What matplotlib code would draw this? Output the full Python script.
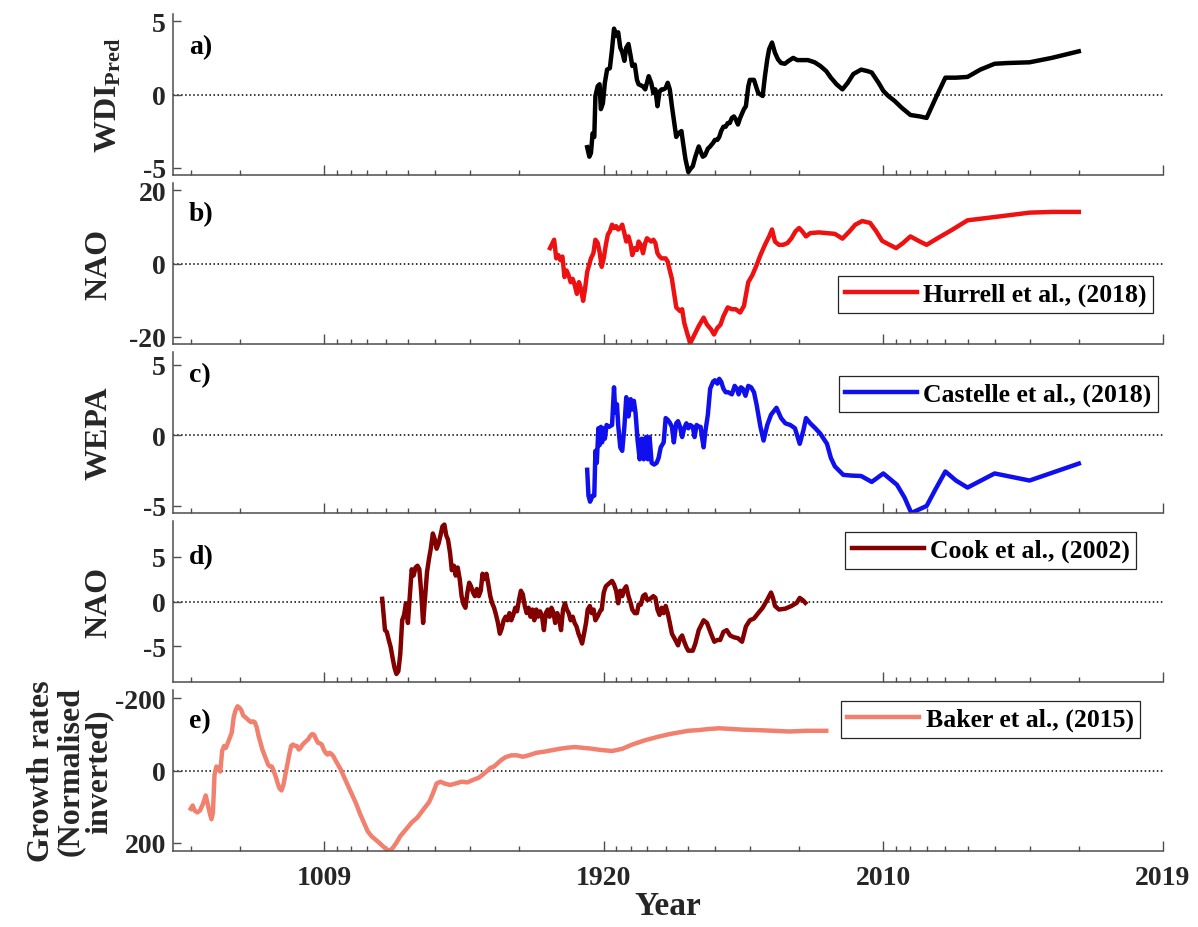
"""
Five stacked climate index panels on a reversed log time axis
(WDI prediction, NAO, WEPA, NAO reconstruction, growth rates).
"""

import matplotlib
matplotlib.use("Agg")
import matplotlib.pyplot as plt
import numpy as np
from matplotlib.ticker import FixedLocator, LogLocator, NullFormatter

plt.rcParams['font.family'] = ['Liberation Serif', 'DejaVu Serif']
plt.rcParams['font.weight'] = 'bold'
plt.rcParams['axes.unicode_minus'] = False
plt.rcParams['mathtext.fontset'] = 'custom'
plt.rcParams['mathtext.rm'] = 'Liberation Serif:bold'
plt.rcParams['mathtext.bf'] = 'Liberation Serif:bold'
plt.rcParams['mathtext.it'] = 'Liberation Serif:bold:italic'

# x axis is log10(REF_YEAR - year), drawn reversed
REF_YEAR = 2020
tick_years = [1020, 1920, 2010, 2019]
tick_labels = ['1009', '1920', '2010', '2019']

# ---- a) WDI_Pred ----
wdi_year = [1905.5, 1907.5, 1909, 1910.5, 1912, 1913, 1915, 1916.6, 1917.7, 1919.4,
            1921, 1922.8, 1925, 1926.7, 1928.2, 1929.8, 1931.3, 1932.8, 1934.2, 1935.7,
            1937, 1938.5, 1940, 1941, 1942.6, 1944, 1945, 1947.7, 1949, 1950,
            1951, 1952.4, 1953.6, 1954.7, 1955.8, 1956.9, 1958, 1959, 1960, 1961,
            1962, 1963, 1965, 1966, 1967.3, 1968, 1969, 1970.2, 1971, 1972,
            1973, 1974.3, 1975, 1975.8, 1976.6, 1977.6, 1978.4, 1979.4, 1980, 1980.8,
            1981.4, 1982, 1982.7, 1983.4, 1984, 1984.6, 1985.2, 1985.8, 1986.3, 1986.9,
            1987.5, 1988, 1988.5, 1989, 1989.6, 1990, 1991, 1991.6, 1992, 1993,
            1993.5, 1994, 1994.4, 1995, 1995.6, 1996.2, 1996.8, 1997.5, 1998.2, 1999,
            1999.7, 2000.5, 2001.4, 2002.4, 2003.2, 2004, 2004.6, 2005.3, 2006, 2006.6,
            2007.2, 2008, 2008.6, 2009, 2009.6, 2010, 2010.4, 2010.9, 2011.4, 2012,
            2012.6, 2013, 2013.5, 2014, 2014.5, 2015, 2015.5, 2016, 2016.4, 2017,
            2017.5, 2018]
wdi_val = [-3.6, -4.25, -4.0, -2.65, -2.9, -0.1, 0.57, 0.7, -1.0, -0.6,
           0.8, 1.7, 1.8, 3.1, 4.5, 4.0, 4.25, 3.2, 2.9, 2.3,
           3.2, 3.45, 2.6, 1.95, 2.05, 1.0, 0.7, 0.55, 0.35, 0.8,
           1.25, 0.8, 0.1, 0.35, -0.8, 0.2, 0.35, 0.35, 0.45, 0.8,
           0.35, -0.8, -2.9, -2.65, -2.5, -3.3, -4.4, -5.3, -5.1, -4.9,
           -4.25, -3.55, -3.9, -4.25, -4.15, -3.7, -3.55, -3.3, -3.1, -3.1,
           -2.9, -2.5, -2.2, -2.2, -1.95, -1.95, -1.6, -1.5, -1.7, -2.05,
           -1.6, -1.3, -1.0, -0.8, 0.55, 1.0, 1.0, 0.45, 0.1, -0.1,
           1.25, 2.4, 3.1, 3.55, 2.85, 2.4, 2.15, 2.1, 2.3, 2.5,
           2.35, 2.35, 2.35, 2.2, 1.95, 1.6, 1.15, 0.7, 0.35, 0.8,
           1.4, 1.7, 1.6, 1.5, 0.8, 0.25, -0.1, -0.45, -0.9, -1.4,
           -1.5, -1.6, -0.25, 1.15, 1.15, 1.2, 1.7, 2.1, 2.15, 2.2,
           2.5, 2.95]

# ---- b) NAO, Hurrell et al. (2018) ----
hurrell_year = [1864.5, 1869.7, 1872.3, 1874.8, 1877.2, 1879.6, 1882, 1884.3, 1886.6, 1888.8,
                1891, 1893.2, 1895.4, 1897.5, 1899.5, 1901.6, 1903.5, 1905.5, 1909, 1911.2,
                1913, 1915, 1916.6, 1918.4, 1920.1, 1921.8, 1923.4, 1925, 1926.7, 1928.2,
                1929.8, 1931.3, 1932.8, 1934.2, 1935.7, 1937, 1938.5, 1940, 1941, 1942.6,
                1944, 1945, 1946.4, 1947.7, 1949, 1950, 1951, 1952.4, 1953.6, 1954.7,
                1955.8, 1956.9, 1958, 1960, 1961, 1962, 1963, 1965, 1966.7, 1967.6,
                1968.5, 1969.7, 1971, 1972.7, 1974.3, 1976.1, 1977.3, 1978.7, 1979.7, 1980.8,
                1981.8, 1982.7, 1984, 1985.2, 1986.3, 1987.5, 1988.5, 1989.6, 1990.6, 1991.6,
                1992.5, 1993.5, 1994.4, 1995, 1995.6, 1996.4, 1997.2, 1998, 1998.7, 1999.4,
                2000, 2000.5, 2001.1, 2001.75, 2003, 2004.1, 2005.1, 2006, 2006.8, 2007.4,
                2008.1, 2008.85, 2009.4, 2009.9, 2010.4, 2011, 2011.5, 2012, 2012.6, 2013,
                2013.6, 2014.35, 2015, 2016, 2017, 2017.5, 2018]
hurrell_val = [4.2, 6.5, 1.4, 2.3, 0.9, 1.9, -3.7, -1.9, -3.2, -5.1,
               -4.2, -6.0, -8.3, -5.1, -6.9, -10.2, -6.9, -2.3, 1.4, 2.8,
               6.5, 5.6, 3.2, -0.9, 1.4, 5.1, 7.9, 8.8, 10.6, 9.7,
               10.2, 9.3, 9.7, 10.6, 8.3, 6.0, 7.4, 5.1, 2.3, 4.2,
               3.7, 6.0, 5.1, 2.8, 5.6, 6.9, 6.5, 6.0, 6.5, 5.6,
               2.8, 1.9, 1.4, 1.4, 0.5, -1.9, -4.2, -12.0, -13.0, -12.5,
               -16.2, -19.0, -21.8, -19.4, -17.1, -14.8, -16.7, -18.0, -19.4, -17.6,
               -16.7, -14.4, -12.0, -12.5, -12.5, -13.4, -11.6, -5.1, -3.2, -0.5,
               2.3, 5.1, 7.4, 9.3, 6.0, 5.1, 5.1, 5.6, 6.9, 8.8,
               9.7, 8.8, 7.4, 8.3, 8.5, 8.3, 8.1, 6.8, 8.8, 10.6,
               11.6, 11.1, 8.8, 6.2, 5.3, 4.2, 5.6, 7.4, 6.0, 5.1,
               6.9, 9.3, 11.8, 12.7, 13.9, 14.1, 14.1]

# ---- c) WEPA, Castelle et al. (2018) ----
castelle_year = [1905.5, 1906.7, 1908.2, 1910.5, 1912, 1913, 1914.2, 1915.6, 1916.6, 1917.7,
                 1918.7, 1920.1, 1921, 1922.4, 1924.4, 1926.7, 1928.2, 1929.15, 1930.4, 1931.3,
                 1932.8, 1934.2, 1935.7, 1937, 1938.5, 1940, 1941, 1942.05, 1943.1, 1944.4,
                 1945.7, 1946.9, 1948.15, 1949.4, 1950.55, 1951.5, 1952.65, 1954, 1955.35, 1956.4,
                 1957.5, 1959, 1960, 1961, 1962, 1963, 1963.9, 1965, 1965.8, 1966.7,
                 1967.6, 1968.5, 1969.4, 1970.2, 1971, 1972, 1972.7, 1973.5, 1974.3, 1975,
                 1975.5, 1976.1, 1976.7, 1977.6, 1978.4, 1979.4, 1980, 1980.8, 1981.4, 1982,
                 1982.7, 1983.4, 1984.2, 1985.2, 1986, 1986.6, 1987.1, 1987.7, 1988.2, 1988.9,
                 1989.6, 1990.3, 1991, 1991.6, 1992.5, 1993.2, 1994, 1994.8, 1995.9, 1996.8,
                 1997.6, 1998.5, 1999.3, 2000.1, 2000.7, 2001.1, 2001.75, 2002.5, 2003.2, 2004.1,
                 2004.6, 2005.1, 2006.1, 2007, 2008, 2009, 2010, 2011.06, 2011.6, 2012.06,
                 2013, 2013.5, 2014, 2014.5, 2015, 2016, 2017, 2018]
castelle_val = [-2.44, -4.27, -4.7, -4.27, -4.27, -1.1, -1.95, 0.5, -0.7, 0.6,
                -0.5, 0.5, -0.24, 0.73, 0.6, 0.73, 3.4, 1.6, 2.2, 0.73,
                -0.85, -1.1, 0.6, 2.7, 1.34, 2.56, 1.83, 2.44, 1.6, -0.37,
                -1.7, -0.24, -1.7, -0.12, -1.7, -0.12, -1.95, -2.07, -1.95, -1.6,
                -0.85, -0.5, 1.22, 1.1, 0.9, 0.6, -0.5, 0.85, 1.0, 0.6,
                -0.12, 0.5, 0.85, 0.5, 0.73, 0.6, -0.12, 0.73, 0.6, 0.6,
                -0.12, -0.85, 0.24, 1.46, 3.3, 3.8, 3.9, 3.66, 4.0, 3.8,
                3.3, 3.05, 3.05, 2.9, 3.5, 3.3, 2.9, 3.4, 3.3, 2.8,
                3.5, 3.4, 3.05, 2.2, 0.6, -0.37, 0.73, 1.46, 1.95, 1.22,
                0.85, 0.73, 0.5, -0.6, 0.37, 1.22, 0.85, 0.5, 0.12, -0.6,
                -1.6, -2.2, -2.8, -2.85, -2.88, -3.3, -2.7, -3.5, -4.4, -5.5,
                -5.0, -3.8, -2.56, -3.2, -3.7, -2.7, -3.2, -2.0]

# ---- d) NAO reconstruction, Cook et al. (2002) ----
cook_year = [1401, 1415, 1424, 1433.5, 1442.7, 1451.7, 1460.6, 1469.4, 1478, 1486.5,
             1494.8, 1503, 1511, 1519, 1527, 1534.5, 1542, 1549.6, 1557, 1564,
             1571, 1578, 1585, 1592, 1599, 1605, 1612, 1618, 1624.5, 1631,
             1637, 1643, 1649, 1654.5, 1660, 1666, 1671, 1677, 1682, 1687.5,
             1693, 1698, 1703, 1708, 1713, 1717.6, 1722, 1727, 1731.5, 1736,
             1740.5, 1745, 1749, 1753, 1757.6, 1761.7, 1765.7, 1769.7, 1773.6, 1777.5,
             1781.3, 1785, 1788.7, 1792.3, 1795.9, 1799.4, 1802.8, 1806, 1809.6, 1813,
             1816, 1819.3, 1822.4, 1825.5, 1828.6, 1831.6, 1834.5, 1837.4, 1840.3, 1843,
             1846, 1848.6, 1851.3, 1854, 1856.5, 1859, 1861.6, 1864, 1866.4, 1869,
             1871, 1873.5, 1876, 1878, 1880.3, 1882.5, 1884.6, 1886.7, 1888.8, 1891,
             1893, 1895, 1897, 1898.8, 1900.6, 1902.5, 1904.4, 1906, 1908, 1909.7,
             1911.4, 1913, 1914.8, 1917.4, 1918.4, 1920.1, 1921.8, 1923.4, 1925, 1926.7,
             1928.2, 1929.8, 1931.3, 1932.8, 1934.2, 1935.7, 1937, 1938.5, 1940, 1941,
             1942.6, 1944, 1945, 1946.4, 1947.7, 1949, 1950, 1951, 1952.4, 1953.6,
             1954.7, 1955.8, 1956.9, 1958, 1959, 1960, 1961, 1962, 1963, 1963.9,
             1965, 1965.8, 1966.7, 1967.6, 1968.5, 1969.4, 1970.2, 1972, 1973, 1974.3,
             1976.1, 1977.3, 1978.7, 1979.8, 1980.8, 1981.7, 1982.7, 1983.7, 1984.7, 1985.8,
             1986.9, 1988, 1989, 1990, 1991, 1992, 1993, 1994, 1994.8, 1995.2,
             1995.6, 1996.4, 1997.6, 1998.7, 1999.6, 2000.1, 2000.6, 2001]
cook_val = [0.3, -3.2, -3.4, -4.3, -5.1, -6.3, -7.4, -8.1, -7.8, -5.9,
            -2.1, -1.5, -0.2, -2.4, 0.6, 3.6, 2.9, 3.8, 4.0, 3.6,
            1.0, -2.4, 0.4, 3.3, 4.8, 5.9, 7.6, 7.0, 5.9, 6.5,
            7.4, 8.4, 8.6, 7.4, 6.9, 5.4, 3.5, 4.0, 2.9, 3.8,
            2.5, 0.6, -0.3, -0.7, 1.0, 2.1, 1.7, 1.0, 0.6, 1.4,
            0.6, 1.2, 3.1, 2.5, 3.1, 1.9, 0.6, -0.2, -0.7, -1.5,
            -2.4, -3.6, -3.0, -2.1, -1.7, -2.1, -1.3, -2.1, -1.5, -0.7,
            -1.1, 0.2, 1.2, 0.8, -0.5, -1.3, -0.7, -1.7, -0.9, -2.1,
            -0.9, -1.7, -1.1, -1.7, -3.2, -1.3, -0.9, -1.7, -0.7, -1.3,
            -2.4, -1.3, -2.1, -3.2, -0.9, -0.2, -0.9, -1.3, -2.1, -1.7,
            -2.4, -2.8, -3.6, -4.1, -4.7, -3.6, -2.4, -0.9, -0.5, -1.3,
            -0.9, -2.1, -1.7, -1.0, -0.9, 1.0, 1.7, 1.9, 2.1, 2.3,
            1.9, 1.2, -0.2, 1.2, 0.6, 1.4, 1.7, 0.6, -0.2, -0.9,
            -1.3, -1.3, -0.35, -0.35, 0.6, 0.8, 0.2, 0.2, 0.4, 0.6,
            0.4, -0.9, -1.5, -0.7, -1.3, -0.5, -1.3, -2.4, -3.6, -4.0,
            -4.5, -4.9, -4.1, -3.8, -4.5, -5.1, -5.5, -5.5, -4.7, -3.2,
            -2.1, -2.4, -3.6, -4.5, -4.3, -4.3, -3.4, -3.2, -3.8, -4.0,
            -4.1, -4.5, -2.8, -2.1, -1.9, -1.3, -0.7, 0.2, 1.0, 0.4,
            -0.5, -0.9, -0.8, -0.5, -0.15, 0.4, 0.15, -0.15]

# ---- e) growth rates (normalised, inverted), Baker et al. (2015) ----
baker_year = [-974, -927, -880, -817, -755, -686, -627, -586, -537, -505,
              -474, -442, -404, -366, -328, -292, -255, -220, -184, -150,
              -116, -82, -50, -17, 15, 46, 77, 108, 137, 167,
              196, 224, 252, 280, 307, 334, 360, 386, 412, 437,
              461, 486, 510, 533, 557, 579, 602, 624, 646, 668,
              689, 710, 730, 750, 770, 790, 809, 828, 847, 865,
              883, 901, 918, 935, 952, 969, 986, 1002, 1018, 1033.5,
              1049, 1064, 1079, 1094, 1108, 1122, 1150, 1177, 1203, 1229,
              1253, 1277, 1300, 1322, 1344, 1365, 1385, 1405, 1424, 1439,
              1451.7, 1469.4, 1486.5, 1511, 1534.5, 1557, 1571, 1585, 1599, 1612,
              1624.5, 1637, 1649, 1666, 1682, 1698, 1713, 1727, 1740.5, 1749,
              1757.6, 1765.7, 1773.6, 1781.3, 1788.7, 1795.9, 1806, 1816, 1825.5, 1834.5,
              1846, 1856.5, 1866.4, 1876, 1884.6, 1893, 1900.6, 1908, 1917.4, 1926.7,
              1934.2, 1941, 1949, 1955.8, 1962, 1965.8, 1970.2, 1974.3, 1978, 1981.4,
              1985.2, 1988.5, 1991.6, 1995.2, 1998.4, 2001.1, 2004]
baker_val = [106, 97, 111, 116, 111, 92, 69, 92, 120, 135,
             116, 12, -11, -7, 3, -54, -68, -63, -77, -91,
             -105, -148, -167, -178, -174, -167, -152, -148, -143, -138,
             -134, -136, -134, -120, -96, -77, -58, -44, -30, -16,
             -11, -11, 3, 17, 36, 50, 55, 40, 12, -16,
             -44, -68, -72, -68, -68, -58, -63, -72, -77, -82,
             -87, -96, -101, -99, -87, -77, -75, -72, -58, -49,
             -44, -49, -46, -40, -30, -21, -2, 22, 45, 69,
             92, 120, 144, 168, 182, 191, 200, 210, 219, 222,
             215, 200, 182, 163, 144, 130, 116, 102, 88, 64,
             36, 31, 36, 40, 36, 31, 33, 26, 20, 12,
             3, -7, -11, -21, -30, -37, -42, -42, -38, -42,
             -49, -52, -56, -60, -63, -65, -63, -61, -57, -54,
             -60, -72, -84, -93, -101, -105, -110, -112, -115, -117,
             -115, -113, -112, -110, -108, -110, -110]

FIG_W, FIG_H = 1198, 928
AX_LEFT, AX_RIGHT = 173, 1163
AX_HEIGHT = 161
panel_tops = [15, 184, 353, 522, 691]


def add_panel(fig, top_px):
    """Create an axes from pixel coordinates of the reference layout"""
    left = AX_LEFT / FIG_W
    width = (AX_RIGHT - AX_LEFT) / FIG_W
    bottom = 1 - (top_px + AX_HEIGHT) / FIG_H
    return fig.add_axes([left, bottom, width, AX_HEIGHT / FIG_H])


def style_panel(ax, ylim, yticks, letter, letter_y, ylabel, label_x, show_xlabels=False):
    ax.set_xscale('log')
    ax.set_xlim(3465, 1)
    ax.set_ylim(*ylim)
    ax.set_yticks(yticks)
    ax.set_yticklabels([str(t) for t in yticks])

    ax.xaxis.set_major_locator(FixedLocator([REF_YEAR - y for y in tick_years]))
    ax.xaxis.set_minor_locator(LogLocator(base=10, subs=np.arange(2, 10), numticks=20))
    ax.xaxis.set_minor_formatter(NullFormatter())
    if show_xlabels:
        ax.set_xticklabels(tick_labels)
    else:
        ax.tick_params(axis='x', which='both', labelbottom=False)

    for side in ['top', 'right']:
        ax.spines[side].set_visible(False)
    for side in ['left', 'bottom']:
        ax.spines[side].set_color('#4d4d4d')
        ax.spines[side].set_linewidth(1.1)

    ax.tick_params(axis='both', which='both', direction='in', colors='#4d4d4d',
                   labelcolor='#262626', labelsize=20, width=1.0)
    ax.tick_params(axis='x', which='major', length=7, pad=10)
    ax.tick_params(axis='x', which='minor', length=3.5)
    ax.tick_params(axis='y', which='major', length=6, pad=5)

    ax.axhline(0, color='black', linestyle=':', linewidth=1.1, zorder=1)
    ax.text(0.016, letter_y, letter, transform=ax.transAxes, fontsize=20,
            fontweight='bold', ha='left', va='center')
    ax.set_ylabel(ylabel, fontsize=23, fontweight='bold', color='#262626',
                  linespacing=1.0)
    ax.yaxis.set_label_coords(label_x, 0.5)


def add_legend(ax, anchor):
    leg = ax.legend(loc='upper right', bbox_to_anchor=anchor, frameon=True,
                    fancybox=False, edgecolor='#262626', framealpha=1,
                    borderpad=0.25, handlelength=2.8, handletextpad=0.25,
                    borderaxespad=0, prop={'size': 18.5, 'weight': 'bold'})
    leg.get_frame().set_linewidth(0.9)


fig = plt.figure(figsize=(FIG_W / 100, FIG_H / 100), dpi=100)
axes = [add_panel(fig, t) for t in panel_tops]


def ages(years):
    return REF_YEAR - np.array(years, dtype=float)


# a) WDI prediction
ax = axes[0]
ax.plot(ages(wdi_year), wdi_val, color='black', linewidth=3.2)
style_panel(ax, (-5.5, 5.5), [-5, 0, 5], 'a)', 0.80, r'WDI$_{\mathrm{Pred}}$', -0.05)

# b) NAO (Hurrell)
ax = axes[1]
ax.plot(ages(hurrell_year), hurrell_val, color='#ee1111', linewidth=3.2,
        label='Hurrell et al., (2018)')
style_panel(ax, (-22, 22), [-20, 0, 20], 'b)', 0.81, 'NAO', -0.06)
add_legend(ax, (0.99, 0.42))

# c) WEPA (Castelle)
ax = axes[2]
ax.plot(ages(castelle_year), castelle_val, color='#1010ee', linewidth=3.2,
        label='Castelle et al., (2018)')
style_panel(ax, (-5.5, 5.9), [-5, 0, 5], 'c)', 0.86, 'WEPA', -0.06)
add_legend(ax, (0.995, 0.85))

# d) NAO reconstruction (Cook)
ax = axes[3]
ax.plot(ages(cook_year), cook_val, color='#820000', linewidth=3.2,
        label='Cook et al., (2002)')
style_panel(ax, (-9, 9), [-5, 0, 5], 'd)', 0.78, 'NAO', -0.06)
add_legend(ax, (0.973, 0.93))

# e) growth rates (Baker), inverted axis
ax = axes[4]
ax.plot(ages(baker_year), baker_val, color='#f2806f', linewidth=3.2,
        label='Baker et al., (2015)')
style_panel(ax, (223, -223), [-200, 0, 200], 'e)', 0.81,
            'Growth rates\n(Normalised\ninverted)', -0.06, show_xlabels=True)
add_legend(ax, (0.977, 0.93))
ax.set_xlabel('Year', fontsize=24, fontweight='bold', color='#262626', labelpad=0)

plt.savefig('out.png', dpi=100)
